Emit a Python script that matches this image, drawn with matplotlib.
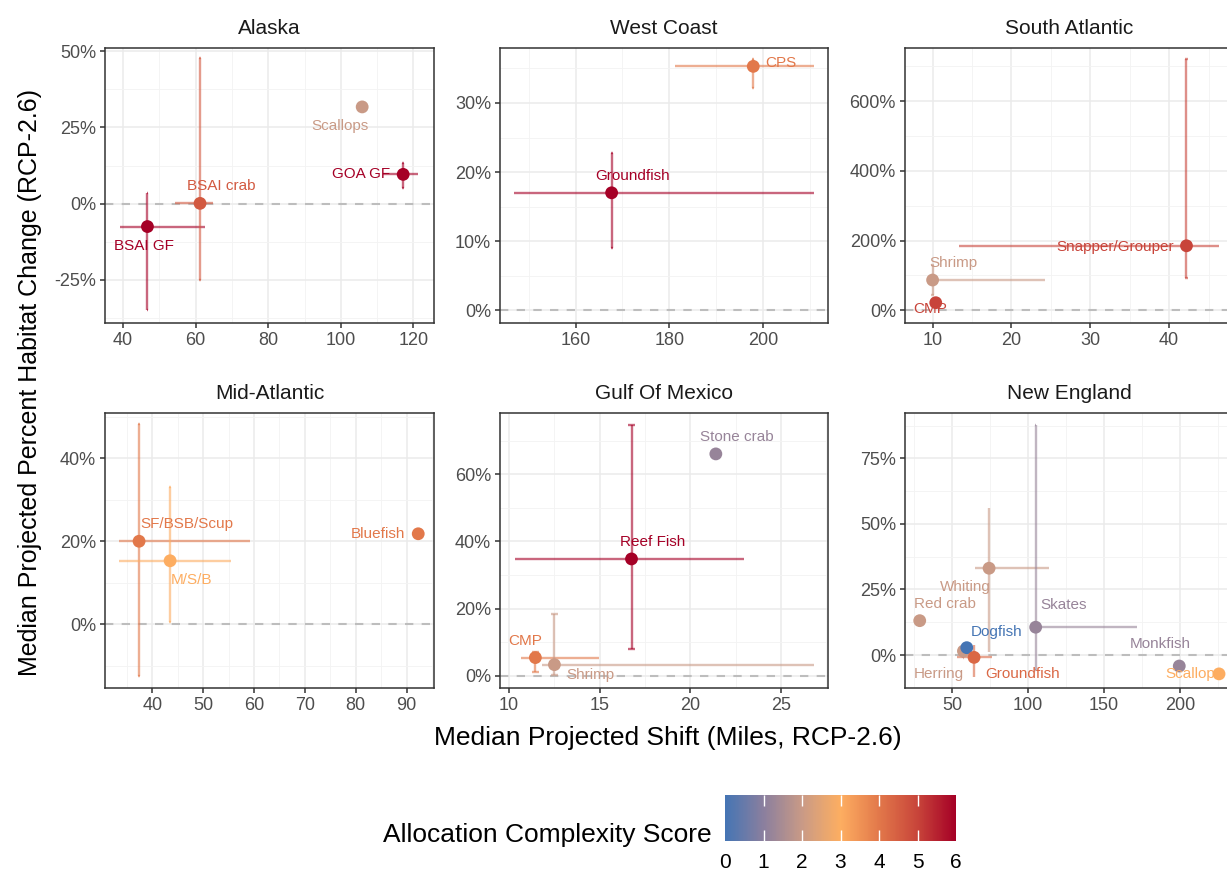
import numpy as np
import matplotlib
matplotlib.use("Agg")
import matplotlib.pyplot as plt
from matplotlib.colors import LinearSegmentedColormap, Normalize
from matplotlib.ticker import MultipleLocator, FuncFormatter
from matplotlib.cm import ScalarMappable

plt.rcParams['font.family'] = ['Liberation Sans', 'DejaVu Sans']

nan = np.nan

# ---- data, one block per region ----
ak_names = ["BSAI GF", "BSAI crab", "Scallops", "GOA GF"]
ak_x = [46.7, 61.2, 105.9, 117.2]
ak_y = [-7.5, 0.1, 31.7, 9.6]
ak_xlo = [39.0, 54.2, nan, 111.7]
ak_xhi = [62.7, 64.7, nan, 121.4]
ak_ylo = [-35.0, -25.0, nan, 5.0]
ak_yhi = [3.4, 47.6, nan, 13.2]
ak_score = [6, 4.6, 2, 6]

wc_names = ["Groundfish", "CPS"]
wc_x = [167.7, 197.9]
wc_y = [17.0, 35.3]
wc_xlo = [146.9, 181.2]
wc_xhi = [210.8, 210.8]
wc_ylo = [9.0, 32.1]
wc_yhi = [22.7, 36.3]
wc_score = [6, 4]

sa_names = ["Snapper/Grouper", "Shrimp", "CMP"]
sa_x = [42.2, 10.0, 10.4]
sa_y = [185.0, 86.8, 21.8]
sa_xlo = [13.3, 10.0, nan]
sa_xhi = [46.3, 24.3, nan]
sa_ylo = [93.5, 44.0, nan]
sa_yhi = [720.0, 130.0, nan]
sa_score = [5, 2, 5]

ma_names = ["SF/BSB/Scup", "M/S/B", "Bluefish"]
ma_x = [37.4, 43.5, 92.3]
ma_y = [20.0, 15.3, 21.8]
ma_xlo = [33.5, 33.5, nan]
ma_xhi = [59.3, 55.5, nan]
ma_ylo = [-12.5, 0.5, nan]
ma_yhi = [48.2, 33.0, nan]
ma_score = [4, 3, 4]

gm_names = ["Reef Fish", "Stone crab", "CMP", "Shrimp"]
gm_x = [16.75, 21.4, 11.45, 12.5]
gm_y = [34.8, 66.1, 5.4, 3.3]
gm_xlo = [10.3, nan, 10.65, 11.8]
gm_xhi = [22.97, nan, 14.96, 26.8]
gm_ylo = [7.9, nan, 1.2, 0.2]
gm_yhi = [74.7, nan, 7.2, 18.4]
gm_score = [6, 1.2, 4, 2]

ne_names = ["Whiting", "Red crab", "Skates", "Herring", "Dogfish",
            "Groundfish", "Monkfish", "Scallops"]
ne_x = [74.2, 28.5, 104.9, 57.3, 59.5, 64.3, 199.5, 225.7]
ne_y = [33.1, 13.1, 10.6, 1.5, 2.8, -0.9, -4.2, -7.2]
ne_xlo = [65.0, nan, 104.9, 55.0, nan, 52.9, nan, nan]
ne_xhi = [113.8, nan, 171.5, 62.0, nan, 76.3, nan, nan]
ne_ylo = [1.3, nan, -5.7, -1.0, nan, -8.3, nan, nan]
ne_yhi = [55.9, nan, 87.7, 4.0, nan, 3.8, nan, nan]
ne_score = [2, 2, 1.2, 2, 0, 4.3, 1.2, 3]

# label offsets in pixels (dx right, dy down) from each point
ak_off = [(-4, 19), (21, -17), (-22, 19), (-42, 0)]
wc_off = [(21, -17), (28, -3)]
sa_off = [(-71, 1), (21, -17), (-6, 6)]
ma_off = [(48, -17), (21, 19), (-40, 0)]
gm_off = [(21, -17), (21, -17), (-10, -17), (36, 10)]
ne_off = [(-24, 19), (25, -17), (28, -22), (-25, 23), (30, -16),
          (49, 17), (-19, -22), (-25, 0)]

panels = [
    ("Alaska", ak_names, ak_x, ak_y, ak_xlo, ak_xhi, ak_ylo, ak_yhi, ak_score, ak_off,
     (35.0, 125.7), (-39.0, 51.1), 20, 25, [105, 434], [47.7, 322.7]),
    ("West Coast", wc_names, wc_x, wc_y, wc_xlo, wc_xhi, wc_ylo, wc_yhi, wc_score, wc_off,
     (143.9, 213.9), (-1.8, 38.0), 20, 10, [500, 828.3], [47.7, 322.7]),
    ("South Atlantic", sa_names, sa_x, sa_y, sa_xlo, sa_xhi, sa_ylo, sa_yhi, sa_score, sa_off,
     (6.5, 48.1), (-35.5, 752.8), 10, 200, [905, 1233], [47.7, 322.7]),
    ("Mid-Atlantic", ma_names, ma_x, ma_y, ma_xlo, ma_xhi, ma_ylo, ma_yhi, ma_score, ma_off,
     (30.7, 95.4), (-15.4, 50.8), 10, 20, [105, 434], [413.3, 688.3]),
    ("Gulf Of Mexico", gm_names, gm_x, gm_y, gm_xlo, gm_xhi, gm_ylo, gm_yhi, gm_score, gm_off,
     (9.5, 27.6), (-3.75, 78.2), 5, 20, [500, 828.3], [413.3, 688.3]),
    ("New England", ne_names, ne_x, ne_y, ne_xlo, ne_xhi, ne_ylo, ne_yhi, ne_score, ne_off,
     (18.8, 234.9), (-12.7, 92.2), 50, 25, [905, 1233], [413.3, 688.3]),
]

cmap = LinearSegmentedColormap.from_list(
    "alloc", ["#4575b4", "#8b7f9e", "#c99a86", "#fdae61", "#e2784a", "#c8453a", "#a50026"])
norm = Normalize(0, 6)

W, H = 1227, 874
fig = plt.figure(figsize=(W / 100, H / 100), dpi=100)

pct = FuncFormatter(lambda v, p: f"{v:.0f}%")

for (title, names, x, y, xlo, xhi, ylo, yhi, score, off,
     xlim, ylim, xstep, ystep, xpx, ypx) in panels:
    ax = fig.add_axes([xpx[0] / W, 1 - ypx[1] / H,
                       (xpx[1] - xpx[0]) / W, (ypx[1] - ypx[0]) / H])
    ax.set_xlim(xlim)
    ax.set_ylim(ylim)
    ax.xaxis.set_major_locator(MultipleLocator(xstep))
    ax.xaxis.set_minor_locator(MultipleLocator(xstep / 2))
    ax.yaxis.set_major_locator(MultipleLocator(ystep))
    ax.yaxis.set_minor_locator(MultipleLocator(ystep / 2))
    ax.yaxis.set_major_formatter(pct)
    ax.grid(which='major', color='#ebebeb', lw=1.1, zorder=0)
    ax.grid(which='minor', color='#f3f3f3', lw=0.6, zorder=0)
    ax.set_axisbelow(True)
    ax.tick_params(which='major', length=3.5, width=1.1, color='#333333',
                   labelcolor='#4d4d4d', labelsize=13, pad=3)
    ax.tick_params(which='minor', length=0)
    for s in ax.spines.values():
        s.set_color('#333333')
        s.set_linewidth(1.1)
    ax.set_title(title, fontsize=15, pad=10, color='#1a1a1a')

    ax.axhline(0, color='#bdbdbd', lw=1.5, ls=(0, (4, 4)), zorder=1)

    cols = cmap(norm(np.array(score)))
    for i in range(len(names)):
        c = cols[i]
        if not np.isnan(xlo[i]):
            ax.hlines(y[i], xlo[i], xhi[i], color=c, alpha=0.6, lw=1.7, zorder=2)
        if not np.isnan(ylo[i]):
            ax.vlines(x[i], ylo[i], yhi[i], color=c, alpha=0.6, lw=1.7, zorder=2)
            ax.hlines([ylo[i], yhi[i]], x[i] - 0.2, x[i] + 0.2, color=c,
                      alpha=0.6, lw=1.7, zorder=2)
    ax.scatter(x, y, s=85, c=cols, zorder=3, linewidths=0)
    for i, n in enumerate(names):
        ax.annotate(n, (x[i], y[i]), xytext=(off[i][0], -off[i][1]),
                    textcoords='offset pixels', ha='center', va='center',
                    fontsize=11, color=cols[i], zorder=4)

fig.text(668 / W, 1 - 738 / H, "Median Projected Shift (Miles, RCP-2.6)",
         ha='center', va='center', fontsize=19)
fig.text(30 / W, 1 - 383 / H, "Median Projected Percent Habitat Change (RCP-2.6)",
         ha='center', va='center', rotation=90, fontsize=18)

# colour legend
cax = fig.add_axes([725 / W, 1 - 841 / H, 231 / W, 46 / H])
cb = fig.colorbar(ScalarMappable(norm=norm, cmap=cmap), cax=cax, orientation='horizontal')
cb.set_ticks(range(1, 6))
cb.outline.set_visible(False)
cax.xaxis.set_ticks_position('both')
cax.tick_params(axis='x', direction='in', length=8, width=1, color='white',
                labelcolor='black', labelsize=15, labeltop=False, pad=9)
# end labels 0 and 6 without white marks at the bar edges
cax.set_xticks([0, 6], labels=["0", "6"], minor=True)
cax.tick_params(axis='x', which='minor', length=0, labelsize=15, pad=9,
                labeltop=False, labelcolor='black')
fig.text(712 / W, 1 - 835 / H, "Allocation Complexity Score",
         ha='right', va='center', fontsize=19)

fig.savefig("out.png", dpi=100)
